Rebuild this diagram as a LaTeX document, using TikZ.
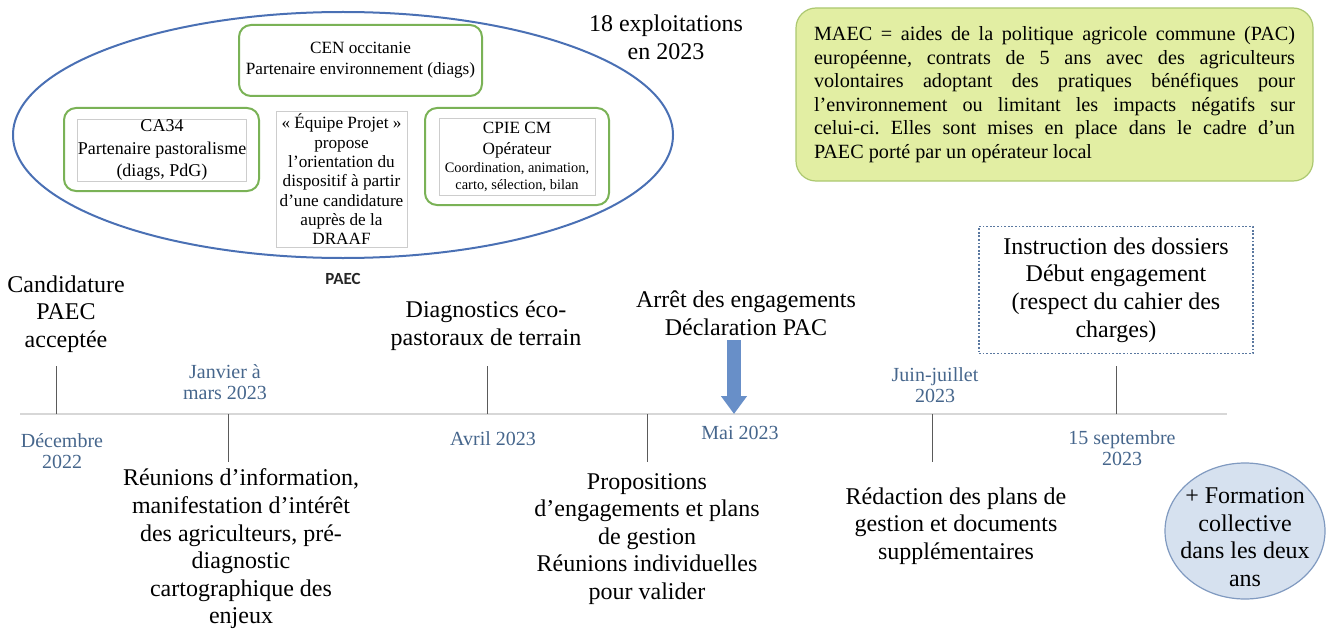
\documentclass[tikz,border=0pt]{standalone}
\usepackage{fontspec}
\setmainfont{Liberation Serif}
\newfontfamily\labelsans{Carlito}
\usetikzlibrary{shapes.geometric}
\usetikzlibrary{arrows.meta}
\tikzset{>={Triangle[length=9pt,width=12.5pt]}}
\definecolor{ellblue}{RGB}{74,112,180}
\definecolor{boxgreen}{RGB}{122,178,86}
\definecolor{innergray}{RGB}{205,205,205}
\definecolor{axisgray}{RGB}{215,215,215}
\definecolor{tickgray}{RGB}{90,90,90}
\definecolor{datecol}{RGB}{70,102,140}
\definecolor{arrowblue}{RGB}{104,143,200}
\definecolor{maecfill}{RGB}{226,238,163}
\definecolor{maecline}{RGB}{172,200,112}
\definecolor{dotblue}{RGB}{90,120,160}
\definecolor{bubblefill}{RGB}{214,225,239}
\definecolor{bubbleline}{RGB}{128,154,192}
\frenchspacing

\begin{document}
\begin{tikzpicture}[x=0.5pt, y=-0.5pt,
    event/.style={align=center, inner sep=0pt, font=\fontsize{12}{13.8}\selectfont},
    datelbl/.style={align=center, inner sep=0pt, text=datecol, font=\fontsize{10}{10.8}\selectfont},
    greenbox/.style={draw=boxgreen, line width=1pt, rounded corners=6pt},
    graybox/.style={draw=innergray, line width=0.5pt, align=center, inner sep=0pt},
    tickline/.style={draw=tickgray, line width=0.5pt}]
  \useasboundingbox (0,0) rectangle (1326,631);
  % PAEC ellipse
  \node[ellipse, draw=ellblue, line width=1pt, minimum width=330pt, minimum height=123pt, inner sep=0pt] (paec) at (343,135) {};
  \node[font=\labelsans\bfseries\fontsize{8.5}{10}\selectfont, text=black!85, inner sep=0pt] (paeclbl) at (343,279) {PAEC};
  % partners
  \node[greenbox, minimum width=121.5pt, minimum height=35.5pt, align=center, inner sep=0pt, font=\fontsize{8.6}{10.5}\selectfont] (cen) at (360.5,60.5) {CEN occitanie\\Partenaire environnement (diags)};
  \node[graybox, minimum width=83pt, minimum height=31pt, font=\fontsize{9}{11.4}\selectfont] (ca34) at (162,150) {CA34\\Partenaire pastoralisme\\(diags, PdG)};
  \node[greenbox, minimum width=97.5pt, minimum height=41.5pt] (ca34frame) at (161.5,149.5) {};
  \node[graybox, minimum width=65.5pt, minimum height=67.5pt, font=\fontsize{8.6}{9.65}\selectfont] (equipe) at (341.5,179.5) {« Équipe Projet »\\propose\\l’orientation du\\dispositif à partir\\d’une candidature\\auprès de la\\DRAAF};
  \node[graybox, minimum width=78pt, minimum height=38.5pt, font=\fontsize{8.6}{10.8}\selectfont] (cpie) at (517,157) {CPIE CM\\Opérateur\\[-2pt]{\fontsize{7.2}{9}\selectfont Coordination, animation,}\\[-2pt]{\fontsize{7.2}{9}\selectfont carto, sélection, bilan}};
  \node[greenbox, minimum width=92pt, minimum height=48.5pt] (cpieframe) at (517,156.5) {};
  \node[event] (nbexpl) at (666,37) {18 exploitations\\en 2023};
  % MAEC definition
  \node[draw=maecline, fill=maecfill, line width=0.6pt, rounded corners=10pt, minimum width=258.5pt, minimum height=86.5pt, text width=240.5pt, align=justify, font=\fontsize{10.1}{11.75}\selectfont] (maec) at (1054.5,94.5) {MAEC = aides de la politique agricole commune (PAC) \linebreak européenne, contrats de 5 ans avec des agriculteurs \linebreak volontaires adoptant des pratiques bénéfiques pour \linebreak l’environnement ou limitant les impacts négatifs sur \linebreak celui-ci. Elles sont mises en place dans le cadre d’un \linebreak PAEC porté par un opérateur local};
  % timeline
  \coordinate (tl-start) at (20,414);
  \coordinate (tl-end) at (1227,414);
  \draw[draw=axisgray, line width=1pt] (tl-start) -- (tl-end);
  \foreach \n/\x/\y in {dec/56/366, jan/228/462, avr/487/366, mai/647/462, juin/932/462, sept/1116/366} {
    \coordinate (\n-a) at (\x,414);
    \coordinate (\n-b) at (\x,\y);
    \draw[tickline] (\n-a) -- (\n-b);
  }
  \coordinate (arr-top) at (734,340);
  \coordinate (arr-tip) at (734,414);
  \draw[arrowblue, line width=7pt, ->] (arr-top) -- (arr-tip);
  % dates
  \node[datelbl] (d-dec) at (62,451) {Décembre\\2022};
  \node[datelbl] (d-jan) at (225,382) {Janvier à\\mars 2023};
  \node[datelbl] (d-avr) at (493,439) {Avril 2023};
  \node[datelbl] (d-mai) at (740,433) {Mai 2023};
  \node[datelbl] (d-juin) at (935,385) {Juin-juillet\\2023};
  \node[datelbl] (d-sept) at (1122,448) {15 septembre\\2023};
  % steps
  \node[event] (candidature) at (66,314) {Candidature\\PAEC\\acceptée};
  \node[event] (diag) at (486,326) {Diagnostics éco-\\pastoraux de terrain};
  \node[event] (arret) at (746,313) {Arrêt des engagements\\Déclaration PAC};
  \node[event, draw=dotblue, line width=0.9pt, dash pattern=on 0.9pt off 0.9pt, minimum width=137pt, minimum height=63.5pt] (instruction) at (1116,290) {Instruction des dossiers\\Début engagement\\(respect du cahier des\\charges)};
  \node[event] (reunions) at (241,549) {Réunions d’information,\\manifestation d’intérêt\\des agriculteurs, pré-\\diagnostic\\cartographique des\\enjeux};
  \node[event] (propositions) at (647,539) {Propositions\\d’engagements et plans\\de gestion\\Réunions individuelles\\pour valider};
  \node[event] (redaction) at (956,526) {Rédaction des plans de\\gestion et documents\\supplémentaires};
  % training bubble
  \node[ellipse, draw=bubbleline, fill=bubblefill, line width=0.6pt, minimum width=80pt, minimum height=68pt, inner sep=0pt] (formation) at (1245,531) {};
  \node[event] (formation-txt) at (1245,537) {+ Formation\\collective\\dans les deux\\ans};
\end{tikzpicture}
\end{document}
